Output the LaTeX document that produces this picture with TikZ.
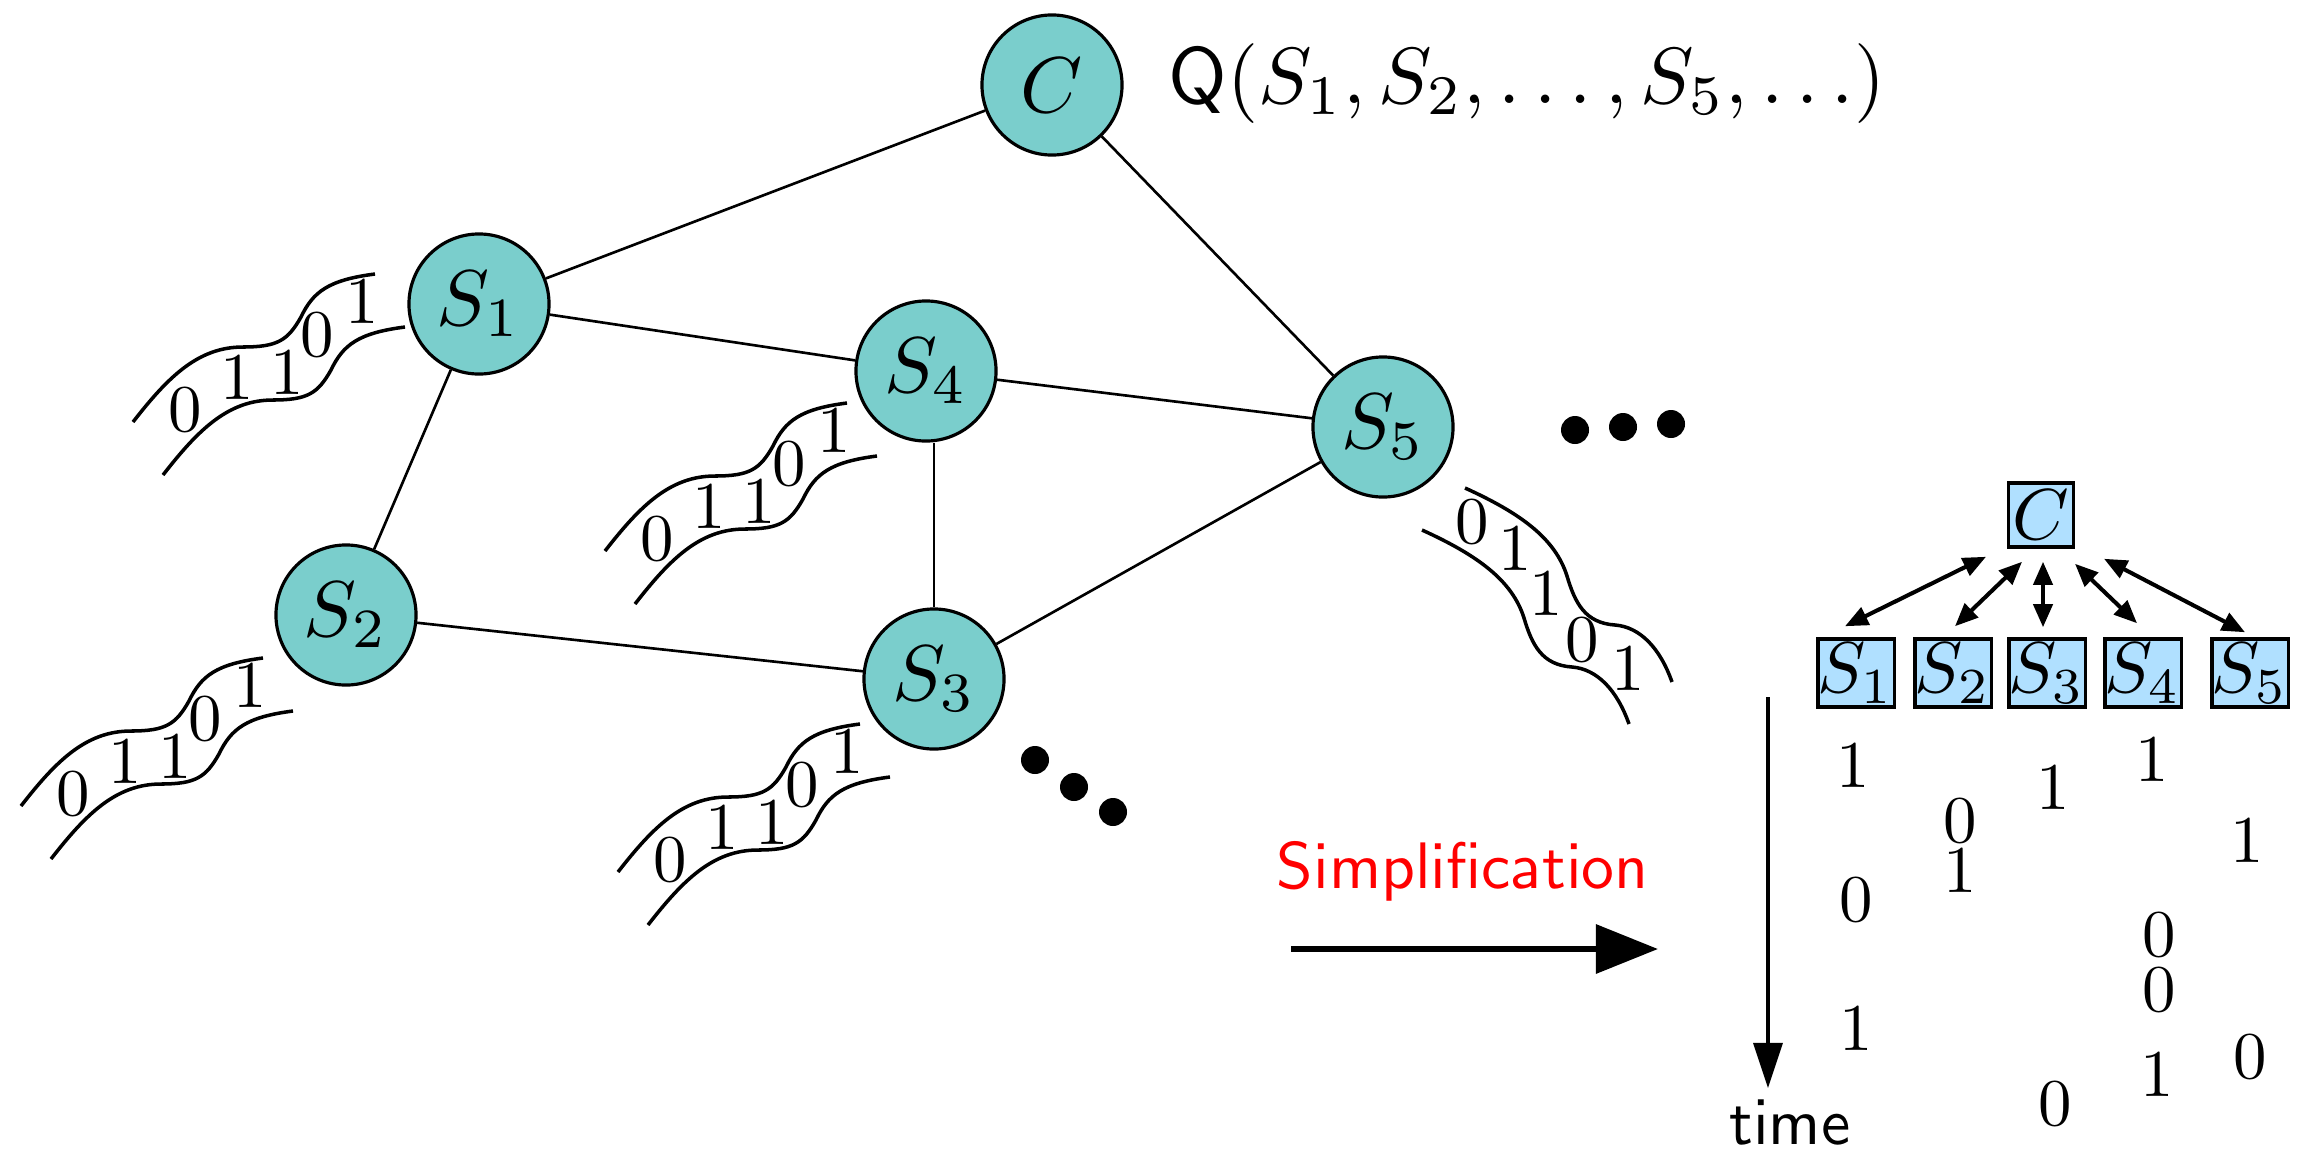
\documentclass[tikz,border=0pt]{standalone}
\usepackage{graphicx}
\usetikzlibrary{arrows.meta,calc}
\definecolor{nodeteal}{RGB}{122,206,204}
\definecolor{boxblue}{RGB}{176,224,255}

% ten-point designs, set large
\font\bitfnt=cmr10 at 19pt
\font\sansfnt=cmss10 at 18.7pt
\newcommand\mlarge[2]{\scalebox{#1}{$#2$}}

\tikzset{
  sensor/.style={circle,draw,line width=0.9pt,fill=nodeteal,minimum size=1.40cm,
    inner sep=0pt,font=\fontsize{10}{12}\selectfont},
  link/.style={line width=0.75pt},
  bit/.style={inner sep=0pt,font=\bitfnt},
  wave/.style={line width=1pt},
  tbox/.style={draw,fill=boxblue,line width=1pt,inner sep=0pt,minimum width=0.67cm,
    minimum height=0.68cm,font=\fontsize{10}{12}\selectfont},
  bigdot/.style={circle,fill=black,inner sep=0pt,minimum size=0.28cm},
  sanslabel/.style={inner sep=0pt,font=\sansfnt},
  tarrow/.style={line width=1.15pt,
    {Triangle[length=0.23cm,width=0.19cm]}-{Triangle[length=0.23cm,width=0.19cm]}},
  % a ribbon of bits running up to the right
  bitstream/.pic={
    \draw[wave] (0,0) .. controls (35,-45) and (65,-75) .. (110,-75)
      .. controls (145,-75) and (155,-82) .. (168,-105)
      .. controls (180,-130) and (195,-142) .. (242,-148);
    \draw[wave,shift={(30,53)}] (0,0) .. controls (35,-45) and (65,-75) .. (110,-75)
      .. controls (145,-75) and (155,-82) .. (168,-105)
      .. controls (180,-130) and (195,-142) .. (242,-148);
    \node[bit] (-b1) at (52,-12) {0};
    \node[bit] (-b2) at (104,-44) {1};
    \node[bit] (-b3) at (154,-49) {1};
    \node[bit] (-b4) at (184,-87) {0};
    \node[bit] (-b5) at (229,-120) {1};
  },
  % a ribbon of bits running down to the right
  bitstreamdown/.pic={
    \draw[wave] (0,0) .. controls (55,25) and (90,50) .. (102,88)
      .. controls (110,115) and (120,135) .. (150,137)
      .. controls (175,139) and (195,160) .. (207,194);
    \draw[wave,shift={(-43,42)}] (0,0) .. controls (55,25) and (90,50) .. (102,88)
      .. controls (110,115) and (120,135) .. (150,137)
      .. controls (175,139) and (195,160) .. (207,194);
    \node[bit] (-b1) at (7,34) {0};
    \node[bit] (-b2) at (50,61) {1};
    \node[bit] (-b3) at (81,106) {1};
    \node[bit] (-b4) at (117,152) {0};
    \node[bit] (-b5) at (163,181) {1};
  }
}

\begin{document}
\begin{tikzpicture}[x=0.01cm,y=-0.01cm]
\useasboundingbox (0,0) rectangle (2306,1154);

% sensor network
\node[sensor] (C)  at (1052,85)  {\mlarge{2.25}{C}};
\node[sensor] (S1) at (479,304)  {\mlarge{2.25}{S_1}};
\node[sensor] (S4) at (926,371)  {\mlarge{2.25}{S_4}};
\node[sensor] (S5) at (1383,427) {\mlarge{2.25}{S_5}};
\node[sensor] (S2) at (346,615)  {\mlarge{2.25}{S_2}};
\node[sensor] (S3) at (934,679)  {\mlarge{2.25}{S_3}};

\draw[link] (C) -- (S1);
\draw[link] (C) -- (S5);
\draw[link] (S1) -- (S4);
\draw[link] (S1) -- (S2);
\draw[link] (S4) -- (S5);
\draw[link] (S4.south -| S3) -- (S3.north);
\draw[link] (S2) -- (S3);
\draw[link] (S3) -- (S5);

\node[anchor=base west,inner sep=0pt,font=\fontsize{10}{12}\selectfont] (Q) at (1168,103)
  {\mlarge{2.27}{\mathsf{Q}(S_1, S_2, \ldots, S_5, \ldots)}};

% incoming bit streams
\pic (st1) at (133,422) {bitstream};
\pic (st4) at (605,551) {bitstream};
\pic (st2) at (21,806)  {bitstream};
\pic (st3) at (618,872) {bitstream};
\pic (st5) at (1465,488) {bitstreamdown};

% more sensors
\node[bigdot] (da1) at (1575,430) {};
\node[bigdot] (da2) at (1623,427) {};
\node[bigdot] (da3) at (1671,424) {};
\node[bigdot] (db1) at (1035,760) {};
\node[bigdot] (db2) at (1074,787) {};
\node[bigdot] (db3) at (1113,812) {};

% simplification step
\node[sanslabel,text=red,anchor=base] (simp) at (1463,888) {Simplification};
\coordinate (sa0) at (1291,949);
\coordinate (sa1) at (1658,949);
\draw[line width=1.8pt,-{Triangle[length=0.62cm,width=0.48cm]}] (sa0) -- (sa1);

% star topology
\node[tbox,minimum height=0.64cm,minimum width=0.65cm] (T) at (2041,515) {\mlarge{2.05}{C}};
\node[tbox] (T1) at (1856,673) {\mlarge{2.05}{S_1}};
\node[tbox] (T2) at (1953,673) {\mlarge{2.05}{S_2}};
\node[tbox] (T3) at (2047,673) {\mlarge{2.05}{S_3}};
\node[tbox] (T4) at (2143,673) {\mlarge{2.05}{S_4}};
\node[tbox] (T5) at (2250,673) {\mlarge{2.05}{S_5}};

\draw[tarrow] ($(T.south)+(-55,8)$) -- ($(T1.north)+(-11,-11)$);
\draw[tarrow] ($(T.south)+(-19,13)$) -- ($(T2.north)+(2,-11)$);
\draw[tarrow] ($(T.south)+(2,13)$) -- ($(T3.north)+(-4,-10)$);
\draw[tarrow] ($(T.south)+(34,15)$) -- ($(T4.north)+(-6,-14)$);
\draw[tarrow] ($(T.south)+(63,10)$) -- ($(T5.north)+(-5,-5)$);

% time axis
\coordinate (ta0) at (1768,697);
\coordinate (ta1) at (1768,1088);
\draw[line width=0.9pt,-{Triangle[length=0.45cm,width=0.29cm]}] (ta0) -- (ta1);
\node[sanslabel,anchor=base] (time) at (1790,1144) {time};

% bits as they arrive
\node[bit] (r1)  at (1853,766)  {1};
\node[bit] (r2)  at (2152,760)  {1};
\node[bit] (r3)  at (2053,788)  {1};
\node[bit] (r4)  at (1960,821)  {0};
\node[bit] (r5)  at (2247,841)  {1};
\node[bit] (r6)  at (1960,871)  {1};
\node[bit] (r7)  at (1856,900)  {0};
\node[bit] (r8)  at (2159,935)  {0};
\node[bit] (r9)  at (2159,990)  {0};
\node[bit] (r10) at (1856,1029) {1};
\node[bit] (r11) at (2250,1057) {0};
\node[bit] (r12) at (2157,1075) {1};
\node[bit] (r13) at (2055,1104) {0};
\end{tikzpicture}
\end{document}
